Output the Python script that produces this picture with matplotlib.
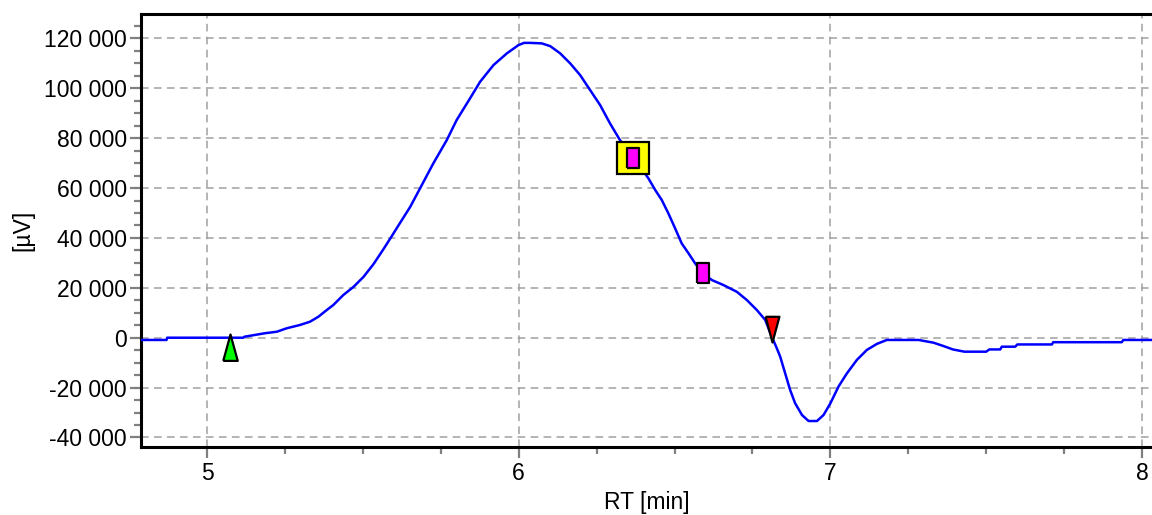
import matplotlib
matplotlib.use('Agg')
import matplotlib.pyplot as plt
from matplotlib.ticker import MultipleLocator, FuncFormatter

plt.rcParams['font.family'] = ['Liberation Sans', 'DejaVu Sans']

# Chromatogram trace
rt = [4.788, 4.870, 4.872, 5.116, 5.120, 5.186, 5.224, 5.256, 5.298, 5.330,
      5.357, 5.384, 5.405, 5.437, 5.470, 5.502, 5.534, 5.566, 5.593, 5.609,
      5.652, 5.689, 5.726, 5.769, 5.801, 5.844, 5.876, 5.919, 5.962, 5.999,
      6.017, 6.037, 6.074, 6.101, 6.133, 6.165, 6.197, 6.229, 6.261, 6.293,
      6.325, 6.368, 6.416, 6.438, 6.459, 6.480, 6.502, 6.523, 6.545, 6.566,
      6.591, 6.620, 6.657, 6.700, 6.732, 6.764, 6.791, 6.812, 6.828, 6.839,
      6.855, 6.871, 6.887, 6.909, 6.930, 6.957, 6.978, 7.000, 7.026, 7.053,
      7.085, 7.117, 7.149, 7.181, 7.283, 7.331, 7.362, 7.393, 7.430, 7.500,
      7.510, 7.545, 7.550, 7.593, 7.600, 7.711, 7.715, 7.935, 7.940, 8.032]
signal = [-900, -900, 0, 0, 400, 1800, 2400, 3800, 5100, 6400,
          8400, 11100, 13100, 17100, 20400, 24400, 29500, 35500, 40800, 44000,
          52500, 61200, 69900, 79200, 87300, 96000, 102600, 109300, 114000, 117300,
          118200, 118200, 118000, 116900, 114000, 110000, 105300, 99300, 93300, 85900,
          79200, 72500, 63900, 59200, 55200, 49900, 43800, 37800, 33800, 29800,
          25800, 23100, 21100, 18400, 15100, 11100, 7100, 400, -4200, -7600,
          -14300, -21000, -26300, -31000, -33400, -33400, -31000, -26300, -19600, -14300,
          -8900, -4900, -2500, -900, -900, -2000, -3300, -4700, -5600, -5600,
          -4700, -4700, -3600, -3600, -2700, -2700, -1800, -1800, -900, -900]

# Peak markers
peak_start = (5.072, 1500)
peak_end = (6.812, -1600)
apex = (6.366, 72100)
split_rt = [6.366, 6.591]
split_val = [72100, 25800]

fig = plt.figure(figsize=(11.52, 5.15), dpi=100)
ax = fig.add_axes([0.1224, 0.1326, 0.8776, 0.8408])

ax.plot(rt, signal, color='#0000ff', lw=1.8, zorder=3)

# markers
tri_up = [(-0.55, -2), (0.55, -2), (0, 0), (-0.55, -2)]
tri_down = [(-0.54, 2), (0.54, 2), (0, 0), (-0.54, 2)]
slim_rect = [(-0.29, -0.5), (0.29, -0.5), (0.29, 0.5), (-0.29, 0.5), (-0.29, -0.5)]
ax.plot(*peak_start, marker=tri_up, ms=38, mfc='#00ff00', mec='black', mew=1.6,
        ls='none', zorder=5)
ax.plot(*peak_end, marker=tri_down, ms=37, mfc='#ff0000', mec='black', mew=1.6,
        ls='none', zorder=5)
ax.plot(*apex, marker='s', ms=23, mfc='#ffff00', mec='black', mew=1.6,
        ls='none', zorder=4)
ax.plot(split_rt, split_val, marker=slim_rect, ms=14.5, mfc='#ff00ff', mec='black',
        mew=1.6, ls='none', zorder=6)

ax.set_xlim(4.788, 8.032)
ax.set_ylim(-43700, 129900)

ax.xaxis.set_major_locator(MultipleLocator(1))
ax.xaxis.set_minor_locator(MultipleLocator(0.25))
ax.yaxis.set_major_locator(MultipleLocator(20000))
ax.yaxis.set_minor_locator(MultipleLocator(5000))
ax.yaxis.set_major_formatter(FuncFormatter(lambda v, p: f"{v:,.0f}".replace(",", " ")))

ax.grid(True, which='major', color='#a0a0a0', ls=(0, (5, 3.5)), lw=1.1)

for side in ['top', 'left', 'bottom']:
    ax.spines[side].set_linewidth(2.2)
    ax.spines[side].set_color('black')
ax.spines['right'].set_visible(False)

ax.tick_params(axis='both', which='major', direction='out', color='#808080',
               width=1.6, labelsize=16.5, labelcolor='black')
ax.tick_params(axis='y', which='major', length=8, pad=2)
ax.tick_params(axis='x', which='major', length=8, pad=3)
ax.tick_params(axis='both', which='minor', direction='out', color='#808080',
               width=1.6, length=5)

ax.set_xlabel('RT [min]', fontsize=16.5, labelpad=4)
ax.set_ylabel('[µV]', fontsize=16.5, labelpad=7)

plt.savefig('out.png', dpi=100)
